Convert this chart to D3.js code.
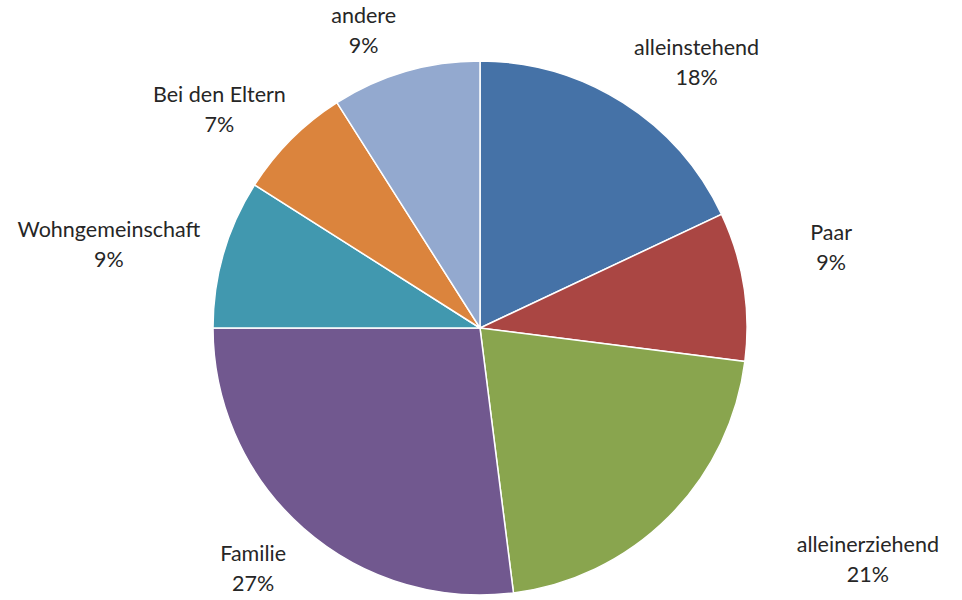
<!DOCTYPE html>
<html><head><meta charset="utf-8">
<script src="https://cdn.jsdelivr.net/npm/d3@7"></script>
<style>html,body{margin:0;padding:0;background:#fff;}</style>
</head><body>
<svg id="chart" width="962" height="600"></svg>
<script>
const categories = ["alleinstehend","Paar","alleinerziehend","Familie","Wohngemeinschaft","Bei den Eltern","andere"];
const values = [18, 9, 21, 27, 9, 7, 9];
const colors = ["#4572A7","#AA4643","#89A54E","#71588F","#4198AF","#DB843D","#93A9CF"];

const W = 962, H = 600, cx = 480, cy = 328, r = 267;
const svg = d3.select("#chart");
const g = svg.append("g").attr("transform", `translate(${cx},${cy})`);

const data = categories.map((c, i) => ({cat: c, val: values[i], color: colors[i]}));
const pie = d3.pie().value(d => d.val).sort(null);
const arc = d3.arc().innerRadius(0).outerRadius(r);
const arcs = pie(data);

g.selectAll("path").data(arcs).join("path")
  .attr("d", arc)
  .attr("fill", d => d.data.color)
  .attr("stroke", "#fff")
  .attr("stroke-width", 1.5);

// label layout (manual adjustments as in the original)
const labelR = 295;
const nudge = {"alleinstehend":[25,3],"Paar":[39,-30],"alleinerziehend":[129,8],"Familie":[-10,3],
  "Wohngemeinschaft":[0,5],"Bei den Eltern":[-5,6],"andere":[-25,7]};
const fs = 21.5, lh = 30;
const total = d3.sum(values);

const labels = g.selectAll("g.lbl").data(arcs).join("g").attr("class","lbl");
labels.each(function(d) {
  const sel = d3.select(this);
  const t = sel.append("text")
    .attr("text-anchor","middle")
    .attr("font-family","Lato, 'Open Sans', sans-serif")
    .attr("font-size", fs)
    .attr("fill","#262626");
  t.append("tspan").attr("x",0).attr("y",0).text(d.data.cat);
  t.append("tspan").attr("x",0).attr("y",lh).text(Math.round(d.data.val / total * 100) + "%");
  const bb = t.node().getBBox();
  const a = (d.startAngle + d.endAngle) / 2;
  const s = Math.sin(a), c = Math.cos(a);
  const hw = bb.width / 2, hh = 22;
  const n = nudge[d.data.cat] || [0,0];
  const x = labelR * s + s * hw + n[0];
  const yc = -labelR * c - c * hh + n[1];
  sel.attr("transform", `translate(${x},${yc - 8})`);
});
</script>
</body></html>
